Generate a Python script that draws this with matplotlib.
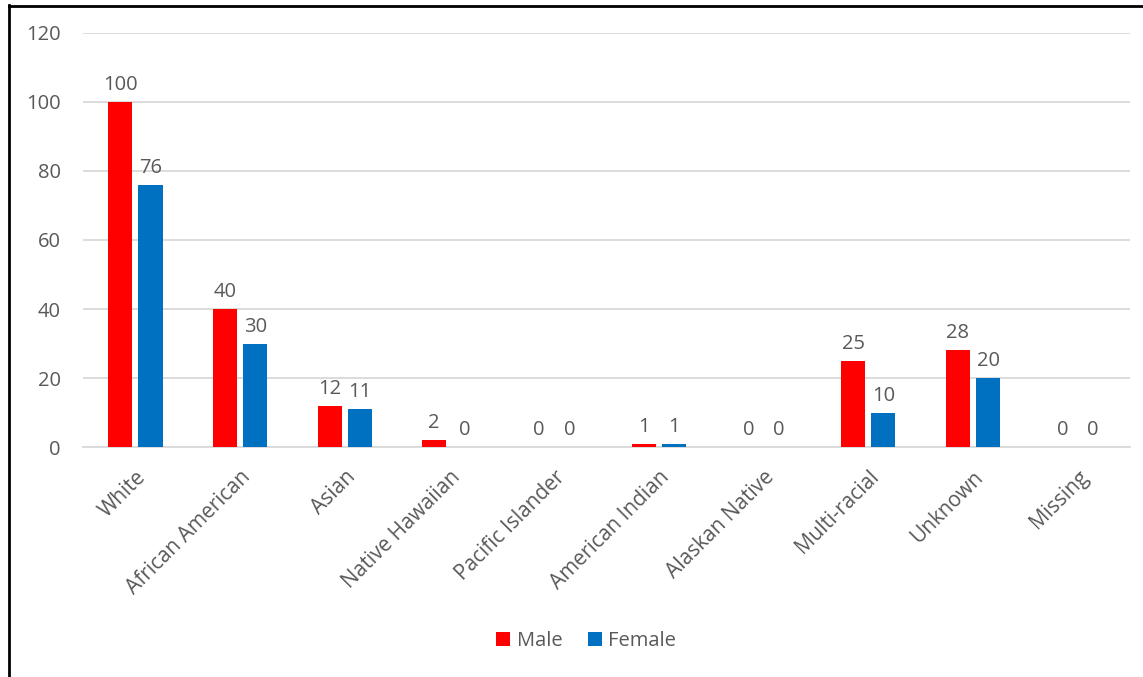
import matplotlib.pyplot as plt
import numpy as np

categories = ["White", "African American", "Asian", "Native Hawaiian", "Pacific Islander",
              "American Indian", "Alaskan Native", "Multi-racial", "Unknown", "Missing"]
male = [100, 40, 12, 2, 0, 1, 0, 25, 28, 0]
female = [76, 30, 11, 0, 0, 1, 0, 10, 20, 0]

plt.rcParams["font.family"] = ["Open Sans", "DejaVu Sans"]
txt = "#595959"

fig = plt.figure(figsize=(11.43, 6.77), dpi=100)
ax = fig.add_axes([0.0726, 0.3397, 0.916, 0.6116])

x = np.arange(len(categories))
w = 0.23
off = 0.145
b1 = ax.bar(x - off, male, w, color="#FF0000", label="Male", zorder=3)
b2 = ax.bar(x + off, female, w, color="#0070C0", label="Female", zorder=3)

for bars, vals in ((b1, male), (b2, female)):
    for r, v in zip(bars, vals):
        ax.annotate(str(v), (r.get_x() + r.get_width() / 2, v), xytext=(0, 5),
                    textcoords="offset points", ha="center", va="bottom",
                    fontsize=14.5, color=txt)

ax.set_ylim(0, 120)
ax.set_xlim(-0.5, len(categories) - 0.5)
ax.set_yticks(range(0, 121, 20))
ax.yaxis.grid(True, color="#d9d9d9", linewidth=1.3, zorder=0)
for s in ["top", "right", "left"]:
    ax.spines[s].set_visible(False)
ax.spines["bottom"].set_color("#d9d9d9")
ax.spines["bottom"].set_linewidth(1.3)
ax.tick_params(length=0, labelsize=14.5, colors=txt)
ax.tick_params(axis="y", pad=16)
ax.set_xticks(x)
ax.set_xticklabels(categories, rotation=45, ha="right", rotation_mode="anchor")
ax.tick_params(axis="x", labelsize=15, pad=14)

ax.legend(loc="center", bbox_to_anchor=(0.513, 0.053), bbox_transform=fig.transFigure,
          ncol=2, frameon=False, fontsize=14.5, labelcolor=txt, handlelength=0.7,
          handleheight=0.7, handletextpad=0.3, columnspacing=1.3)

# outer chart border (left and top edges visible)
fig.add_artist(plt.Line2D([8.5 / 1143, 8.5 / 1143], [0, 1 - 5 / 677], transform=fig.transFigure,
                          color="black", linewidth=2))
fig.add_artist(plt.Line2D([8.5 / 1143, 1], [1 - 5.5 / 677, 1 - 5.5 / 677], transform=fig.transFigure,
                          color="black", linewidth=2))

fig.savefig("out.png", dpi=100)
